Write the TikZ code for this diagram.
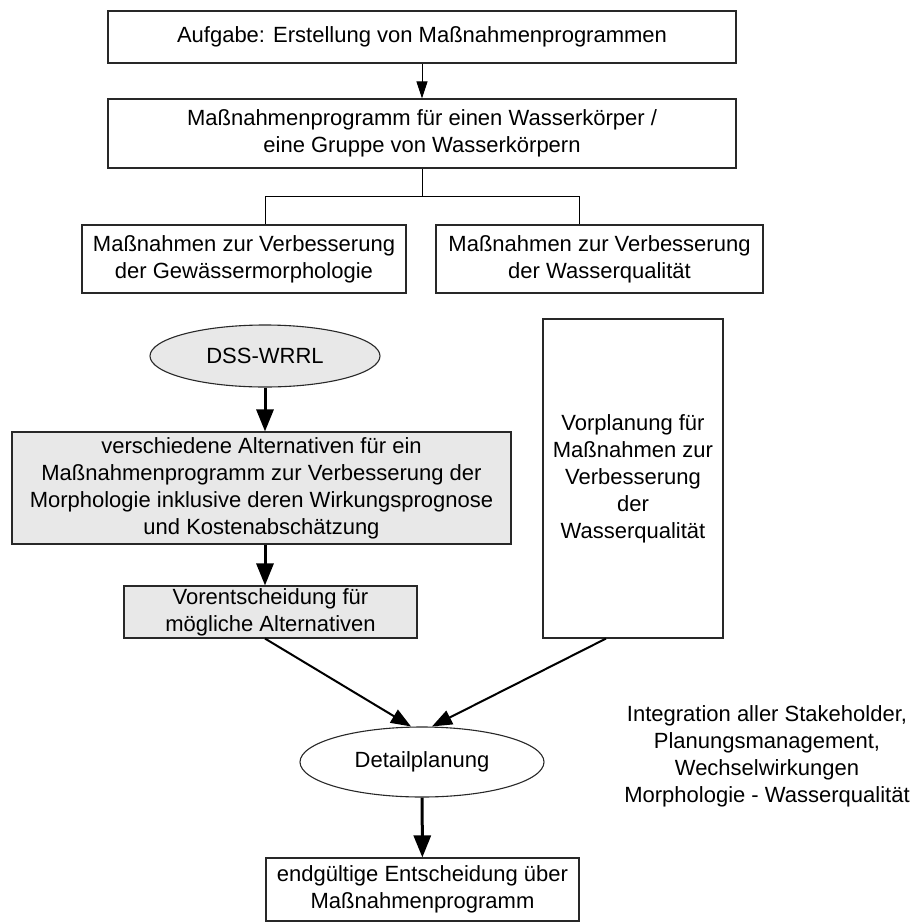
\documentclass[tikz,border=0pt]{standalone}
\usepackage{fontspec}
\setmainfont{Liberation Sans}
\usetikzlibrary{shapes.geometric,arrows.meta}
\definecolor{boxgray}{RGB}{232,232,232}
\definecolor{edge}{RGB}{40,40,40}
\tikzset{
  every node/.style={font=\fontsize{22}{27}\selectfont, align=center, inner sep=0pt},
  plainbox/.style={draw=edge, line width=1.1pt, rectangle},
  graybox/.style={plainbox, fill=boxgray},
  oval/.style={draw=edge, line width=1.1pt, ellipse},
  thinarrow/.style={line width=1pt, -{Triangle[length=17pt,width=11pt]}},
  thickarrow/.style={line width=3pt, -{Triangle[length=22pt,width=17pt]}},
  diagarrow/.style={line width=2pt, -{Triangle[length=20pt,width=15pt]}},
  link/.style={line width=1pt}
}
\begin{document}
\begin{tikzpicture}[x=1pt,y=-1pt]
\useasboundingbox (0,0) rectangle (913,922);
\node[plainbox, minimum width=628pt, minimum height=52pt] (top) at (422,37) {Aufgabe: Erstellung von Maßnahmenprogrammen};
\node[plainbox, minimum width=628pt, minimum height=69pt] (prog) at (422,133.5) {Maßnahmenprogramm für einen Wasserkörper /\\eine Gruppe von Wasserkörpern};
\node[plainbox, minimum width=324pt, minimum height=68pt] (morph) at (244,259) {Maßnahmen zur Verbesserung\\der Gewässermorphologie};
\node[plainbox, minimum width=327pt, minimum height=68pt] (qual) at (599.5,259) {Maßnahmen zur Verbesserung\\der Wasserqualität};
\node[oval, fill=boxgray, minimum width=230pt, minimum height=62pt] (dss) at (265,356) {DSS-WRRL};
\node[graybox, minimum width=499pt, minimum height=112pt] (alt) at (261.5,488) {verschiedene Alternativen für ein\\Maßnahmenprogramm zur Verbesserung der\\Morphologie inklusive deren Wirkungsprognose\\und Kostenabschätzung};
\node[graybox, minimum width=293pt, minimum height=52pt] (vorent) at (270.5,612) {Vorentscheidung für\\mögliche Alternativen};
\node[plainbox, minimum width=180pt, minimum height=319pt] (vorpl) at (633,478.5) {Vorplanung für\\Maßnahmen zur\\Verbesserung\\der\\Wasserqualität};
\node[oval, minimum width=244pt, minimum height=70pt] (detail) at (422,762) {Detailplanung};
\node[plainbox, minimum width=313pt, minimum height=63pt] (final) at (422.5,889.5) {endgültige Entscheidung über\\Maßnahmenprogramm};
\node (integ) at (767,756) {Integration aller Stakeholder,\\Planungsmanagement,\\Wechselwirkungen\\Morphologie - Wasserqualität};
\coordinate (split) at (422,196);
\coordinate (splitl) at (265,196);
\coordinate (splitr) at (579,196);
\draw[thinarrow] (top) -- (prog);
\draw[link] (prog.south) -- (split);
\draw[link] (splitl |- morph.north) -- (splitl) -- (splitr) -- (splitr |- qual.north);
\draw[thickarrow] (dss.south) -- (dss.south |- alt.north);
\draw[thickarrow] (dss.south |- alt.south) -- (dss.south |- vorent.north);
\draw[diagarrow] ([xshift=-5.5pt]vorent.south) -- ([xshift=-11pt]detail.north);
\draw[diagarrow] ([xshift=-27pt]vorpl.south) -- ([xshift=10pt]detail.north);
\draw[thickarrow] (detail) -- (final);
\end{tikzpicture}
\end{document}
